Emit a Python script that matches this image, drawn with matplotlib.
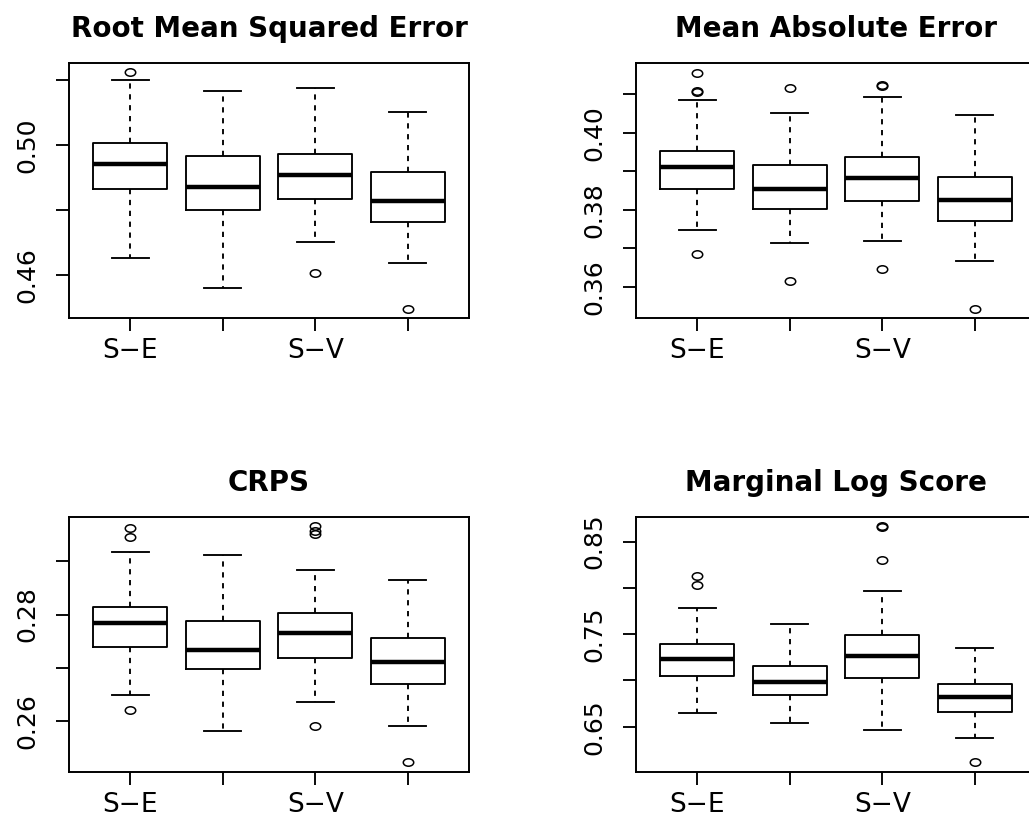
import numpy as np
import matplotlib
matplotlib.use("Agg")
import matplotlib.pyplot as plt
from matplotlib.path import Path
from matplotlib.transforms import Affine2D

plt.rcParams['font.family'] = ['DejaVu Sans']

# x categories (only 1st and 3rd labels are printed, like R drops overlapping ones)
tick_labels = ['S\u2212E', '', 'S\u2212V', '']

titles = ['Root Mean Squared Error', 'Mean Absolute Error', 'CRPS', 'Marginal Log Score']

# Root Mean Squared Error
rmse_lo = [0.4651, 0.4561, 0.4702, 0.4637]
rmse_q1 = [0.4865, 0.4800, 0.4834, 0.4762]
rmse_med = [0.4942, 0.4871, 0.4908, 0.4829]
rmse_q3 = [0.5007, 0.4966, 0.4971, 0.4916]
rmse_hi = [0.5200, 0.5167, 0.5176, 0.5101]
rmse_out = [[0.5224], [], [0.4605], [0.4496]]

# Mean Absolute Error
mae_lo = [0.3748, 0.3713, 0.3718, 0.3668]
mae_q1 = [0.3853, 0.3801, 0.3822, 0.3771]
mae_med = [0.3912, 0.3853, 0.3882, 0.3825]
mae_q3 = [0.3952, 0.3916, 0.3936, 0.3885]
mae_hi = [0.4086, 0.4051, 0.4094, 0.4045]
mae_out = [[0.4156, 0.4108, 0.4106, 0.3686], [0.4117, 0.3616],
           [0.4123, 0.4121, 0.3647], [0.3542]]

# CRPS
crps_lo = [0.26481, 0.25806, 0.26356, 0.25900]
crps_q1 = [0.27394, 0.26981, 0.27188, 0.26700]
crps_med = [0.27844, 0.27325, 0.27644, 0.27100]
crps_q3 = [0.28150, 0.27888, 0.28031, 0.27556]
crps_hi = [0.29175, 0.29125, 0.28844, 0.28650]
crps_out = [[0.2962, 0.2945, 0.26213], [],
            [0.29663, 0.29563, 0.29506, 0.25906], [0.25225]]

# Marginal Log Score
mls_lo = [0.6647, 0.6543, 0.6464, 0.6374]
mls_q1 = [0.7050, 0.6842, 0.7029, 0.6658]
mls_med = [0.7237, 0.6978, 0.7266, 0.6820]
mls_q3 = [0.7396, 0.7158, 0.7486, 0.6964]
mls_hi = [0.7781, 0.7608, 0.7964, 0.7356]
mls_out = [[0.8133, 0.8029], [], [0.8665, 0.8655, 0.8306], [0.6115]]

panels = [
    (rmse_lo, rmse_q1, rmse_med, rmse_q3, rmse_hi, rmse_out),
    (mae_lo, mae_q1, mae_med, mae_q3, mae_hi, mae_out),
    (crps_lo, crps_q1, crps_med, crps_q3, crps_hi, crps_out),
    (mls_lo, mls_q1, mls_med, mls_q3, mls_hi, mls_out),
]

ylims = [(0.4468, 0.5252), (0.3519, 0.4181), (0.25044, 0.29831), (0.60108, 0.87662)]
yticks = [[0.46, 0.48, 0.50, 0.52],
          [0.36, 0.37, 0.38, 0.39, 0.40, 0.41],
          [0.26, 0.27, 0.28, 0.29],
          [0.65, 0.70, 0.75, 0.80, 0.85]]
ylabels = [['0.46', '', '0.50', ''],
           ['0.36', '', '0.38', '', '0.40', ''],
           ['0.26', '', '0.28', ''],
           ['0.65', '', '0.75', '', '0.85']]

W, H = 1029, 821
fig = plt.figure(figsize=(W / 100, H / 100), dpi=100)

# axes boxes in pixels: left, top
boxes_px = [(69, 63), (636, 63), (69, 517), (636, 517)]
aw, ah = 400, 255

# the original picture is a bit stretched sideways, so outliers are ellipses
oval = Path.unit_circle().transformed(Affine2D().scale(1.4, 1.0))

lw = 1.35
for i, (lo, q1, med, q3, hi, out) in enumerate(panels):
    l, t = boxes_px[i]
    ax = fig.add_axes([l / W, 1 - (t + ah) / H, aw / W, ah / H])
    stats = []
    for k in range(4):
        stats.append(dict(whislo=lo[k], q1=q1[k], med=med[k], q3=q3[k],
                          whishi=hi[k], fliers=out[k]))
    ax.bxp(stats, positions=[1, 2, 3, 4], widths=0.8, capwidths=0.4,
           boxprops=dict(color='black', linewidth=lw),
           medianprops=dict(color='black', linewidth=3.2, solid_capstyle='butt'),
           whiskerprops=dict(color='black', linewidth=lw, linestyle=(0, (2.8, 3.0))),
           capprops=dict(color='black', linewidth=lw),
           flierprops=dict(marker=oval, markerfacecolor='none', markeredgecolor='black',
                           markersize=7.5, markeredgewidth=1.1, linestyle='none'))
    ax.set_xlim(0.34, 4.66)
    ax.set_ylim(*ylims[i])
    ax.set_xticks([1, 2, 3, 4])
    ax.set_xticklabels(tick_labels)
    ax.set_yticks(yticks[i])
    ax.set_yticklabels(ylabels[i], rotation=90, va='center')
    ax.tick_params(axis='both', length=9.5, width=lw, color='black')
    ax.tick_params(axis='x', pad=5, labelsize=19)
    ax.tick_params(axis='y', pad=12, labelsize=18)
    for s in ax.spines.values():
        s.set_linewidth(1.4)
    ax.set_title(titles[i], fontsize=20, fontweight='bold', pad=19)

fig.savefig('out.png', dpi=100)
